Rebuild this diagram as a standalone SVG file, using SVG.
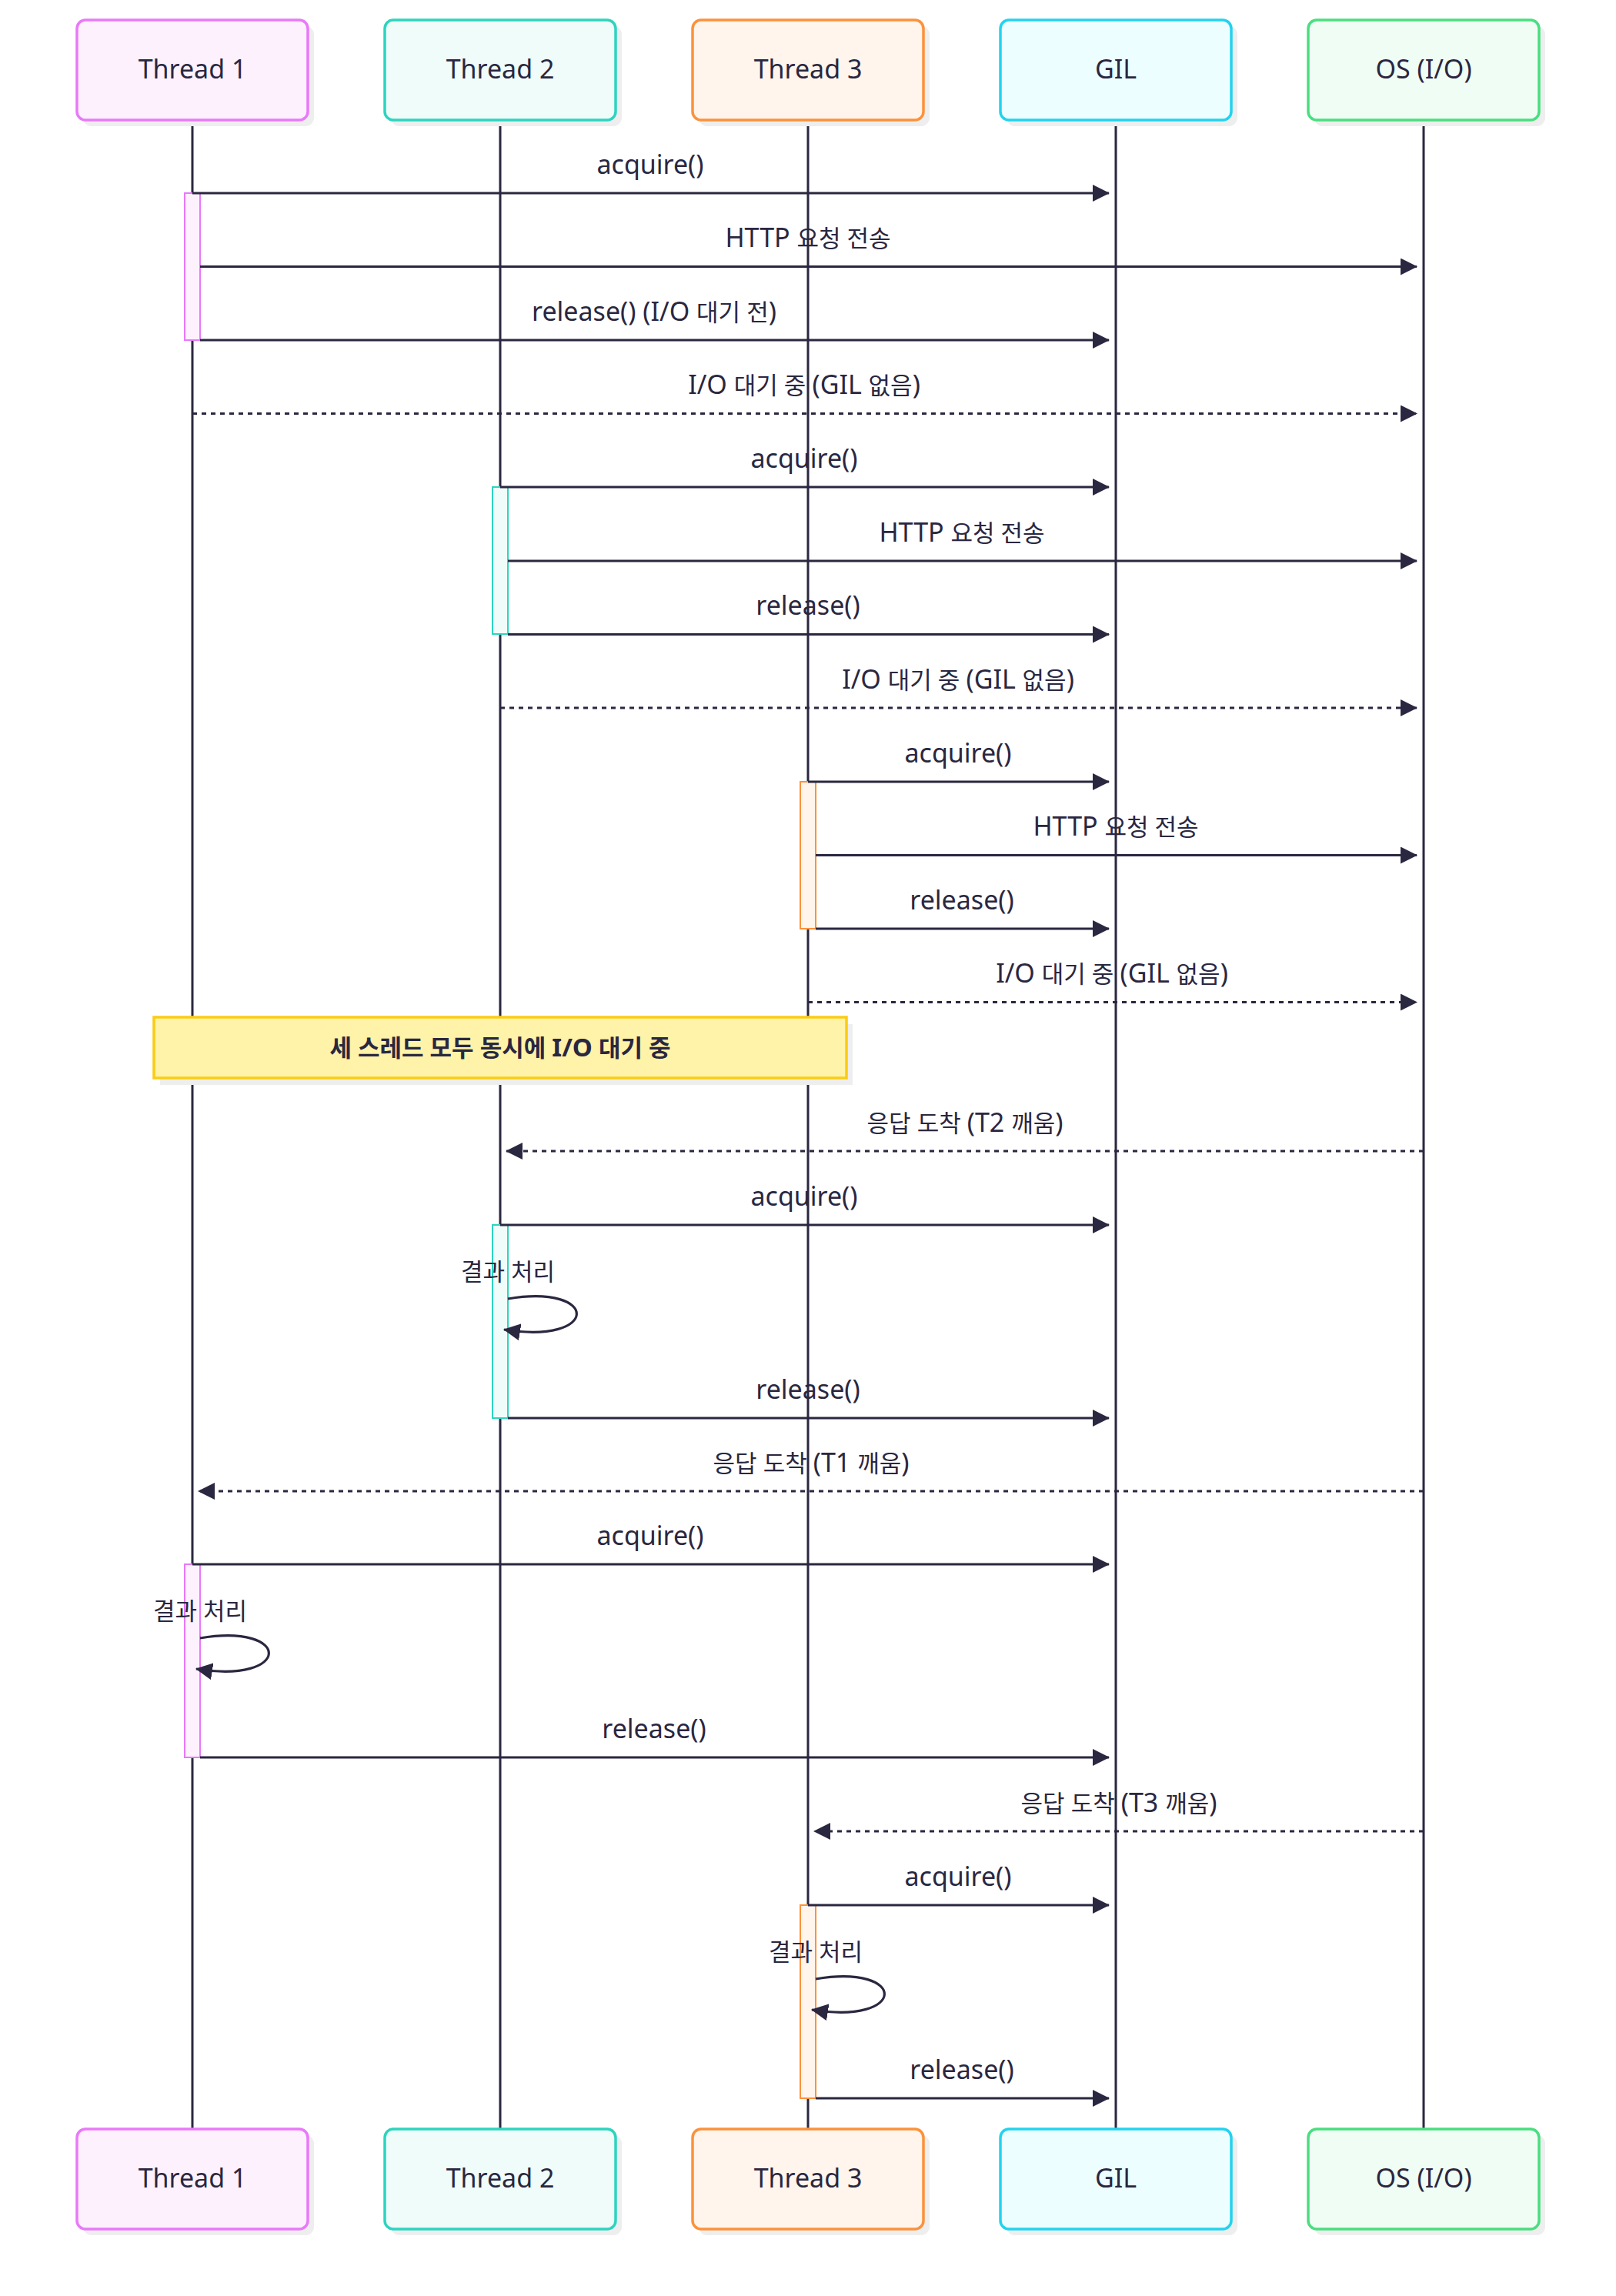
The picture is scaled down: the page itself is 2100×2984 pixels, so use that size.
<svg xmlns="http://www.w3.org/2000/svg" width="2100" height="2984" viewBox="0 0 2100 2984">
<style>
.bg{fill:#ffffff}
.lifeline{stroke:#2a2740;stroke-width:3;fill:none}
.shadow{fill:#eeeeee}
.actor{stroke-width:3.5}
.atext{font-family:"Noto Sans","Noto Sans CJK KR",sans-serif;font-size:34px;fill:#2a2740;text-anchor:middle}
.msg{stroke:#2a2740;stroke-width:3.2;fill:none}
.dot{stroke:#2a2740;stroke-width:3.2;fill:none;stroke-dasharray:6 6}
.mtext{font-family:"Noto Sans","Noto Sans CJK KR",sans-serif;font-size:34px;fill:#2a2740;text-anchor:middle}
.k{font-size:31px}
.ntext{font-family:"Noto Sans","Noto Sans CJK KR",sans-serif;font-size:33px;font-weight:bold;fill:#2a2740;text-anchor:middle}
.nk{font-size:31px}
.t1{fill:#fdf1fe;stroke:#e879f9}
.t2{fill:#effcf9;stroke:#2dd4bf}
.t3{fill:#fff5ec;stroke:#fb923c}
.gil{fill:#ecfeff;stroke:#22d3ee}
.os{fill:#effdf4;stroke:#4ade80}
.act{stroke-width:2}
</style>
<defs>
<marker id="arrow" markerUnits="userSpaceOnUse" viewBox="0 0 22 22" refX="21" refY="11" markerWidth="22" markerHeight="22" orient="auto">
<path d="M0,0 L22,11 L0,22 z" fill="#2a2740"/>
</marker>
</defs>
<rect class="bg" x="0" y="0" width="2100" height="2984"/>

<g id="lifelines">
<line class="lifeline" x1="250" y1="156" x2="250" y2="2767"/>
<line class="lifeline" x1="650" y1="156" x2="650" y2="2767"/>
<line class="lifeline" x1="1050" y1="156" x2="1050" y2="2767"/>
<line class="lifeline" x1="1450" y1="156" x2="1450" y2="2767"/>
<line class="lifeline" x1="1850" y1="156" x2="1850" y2="2767"/>
</g>

<g id="actor-t1">
<rect class="shadow" x="108" y="34" width="300" height="130" rx="11"/>
<rect class="actor t1" x="100" y="26" width="300" height="130" rx="11"/>
<text class="atext" x="250" y="102">Thread 1</text>
<rect class="shadow" x="108" y="2775" width="300" height="130" rx="11"/>
<rect class="actor t1" x="100" y="2767" width="300" height="130" rx="11"/>
<text class="atext" x="250" y="2843">Thread 1</text>
</g>
<g id="actor-t2">
<rect class="shadow" x="508" y="34" width="300" height="130" rx="11"/>
<rect class="actor t2" x="500" y="26" width="300" height="130" rx="11"/>
<text class="atext" x="650" y="102">Thread 2</text>
<rect class="shadow" x="508" y="2775" width="300" height="130" rx="11"/>
<rect class="actor t2" x="500" y="2767" width="300" height="130" rx="11"/>
<text class="atext" x="650" y="2843">Thread 2</text>
</g>
<g id="actor-t3">
<rect class="shadow" x="908" y="34" width="300" height="130" rx="11"/>
<rect class="actor t3" x="900" y="26" width="300" height="130" rx="11"/>
<text class="atext" x="1050" y="102">Thread 3</text>
<rect class="shadow" x="908" y="2775" width="300" height="130" rx="11"/>
<rect class="actor t3" x="900" y="2767" width="300" height="130" rx="11"/>
<text class="atext" x="1050" y="2843">Thread 3</text>
</g>
<g id="actor-gil">
<rect class="shadow" x="1308" y="34" width="300" height="130" rx="11"/>
<rect class="actor gil" x="1300" y="26" width="300" height="130" rx="11"/>
<text class="atext" x="1450" y="102">GIL</text>
<rect class="shadow" x="1308" y="2775" width="300" height="130" rx="11"/>
<rect class="actor gil" x="1300" y="2767" width="300" height="130" rx="11"/>
<text class="atext" x="1450" y="2843">GIL</text>
</g>
<g id="actor-os">
<rect class="shadow" x="1708" y="34" width="300" height="130" rx="11"/>
<rect class="actor os" x="1700" y="26" width="300" height="130" rx="11"/>
<text class="atext" x="1850" y="102">OS (I/O)</text>
<rect class="shadow" x="1708" y="2775" width="300" height="130" rx="11"/>
<rect class="actor os" x="1700" y="2767" width="300" height="130" rx="11"/>
<text class="atext" x="1850" y="2843">OS (I/O)</text>
</g>

<g id="activations">
<rect class="act t1" x="240" y="251" width="20" height="191"/>
<rect class="act t2" x="640" y="633" width="20" height="191"/>
<rect class="act t3" x="1040" y="1016" width="20" height="191"/>
<rect class="act t2" x="640" y="1592" width="20" height="251"/>
<rect class="act t1" x="240" y="2033" width="20" height="251"/>
<rect class="act t3" x="1040" y="2476" width="20" height="251"/>
</g>

<g id="note">
<rect class="shadow" x="208" y="1331" width="900" height="79"/>
<rect x="200" y="1322" width="900" height="79" fill="#fef3a8" stroke="#facc15" stroke-width="3.5"/>
<text class="ntext" x="650" y="1373"><tspan class="nk">세 스레드 모두 동시에 </tspan>I/O<tspan class="nk"> 대기 중</tspan></text>
</g>

<g id="connectors">
<path class="msg" d="M250,251 H1441" marker-end="url(#arrow)"/>
<path class="msg" d="M260,346.5 H1841" marker-end="url(#arrow)"/>
<path class="msg" d="M260,442 H1441" marker-end="url(#arrow)"/>
<path class="dot" d="M250,537.5 H1841" marker-end="url(#arrow)"/>
<path class="msg" d="M650,633 H1441" marker-end="url(#arrow)"/>
<path class="msg" d="M660,729 H1841" marker-end="url(#arrow)"/>
<path class="msg" d="M660,824.5 H1441" marker-end="url(#arrow)"/>
<path class="dot" d="M650,920 H1841" marker-end="url(#arrow)"/>
<path class="msg" d="M1050,1016 H1441" marker-end="url(#arrow)"/>
<path class="msg" d="M1060,1111.5 H1841" marker-end="url(#arrow)"/>
<path class="msg" d="M1060,1207 H1441" marker-end="url(#arrow)"/>
<path class="dot" d="M1050,1302.5 H1841" marker-end="url(#arrow)"/>
<path class="dot" d="M1850,1496 H658" marker-end="url(#arrow)"/>
<path class="msg" d="M650,1592 H1441" marker-end="url(#arrow)"/>
<path class="msg" d="M660,1688 C780,1668 780,1748 655,1728" marker-end="url(#arrow)"/>
<path class="msg" d="M660,1843 H1441" marker-end="url(#arrow)"/>
<path class="dot" d="M1850,1938 H258" marker-end="url(#arrow)"/>
<path class="msg" d="M250,2033 H1441" marker-end="url(#arrow)"/>
<path class="msg" d="M260,2129 C380,2109 380,2189 255,2169" marker-end="url(#arrow)"/>
<path class="msg" d="M260,2284 H1441" marker-end="url(#arrow)"/>
<path class="dot" d="M1850,2380 H1058" marker-end="url(#arrow)"/>
<path class="msg" d="M1050,2476 H1441" marker-end="url(#arrow)"/>
<path class="msg" d="M1060,2572 C1180,2552 1180,2632 1055,2612" marker-end="url(#arrow)"/>
<path class="msg" d="M1060,2727 H1441" marker-end="url(#arrow)"/>
</g>

<g id="labels">
<text class="mtext" x="845" y="226">acquire()</text>
<text class="mtext" x="1050" y="321">HTTP <tspan class="k">요청 전송</tspan></text>
<text class="mtext" x="850" y="417">release() (I/O <tspan class="k">대기 전</tspan>)</text>
<text class="mtext" x="1045" y="512">I/O <tspan class="k">대기 중 </tspan>(GIL <tspan class="k">없음</tspan>)</text>
<text class="mtext" x="1045" y="608">acquire()</text>
<text class="mtext" x="1250" y="704">HTTP <tspan class="k">요청 전송</tspan></text>
<text class="mtext" x="1050" y="799">release()</text>
<text class="mtext" x="1245" y="895">I/O <tspan class="k">대기 중 </tspan>(GIL <tspan class="k">없음</tspan>)</text>
<text class="mtext" x="1245" y="991">acquire()</text>
<text class="mtext" x="1450" y="1086">HTTP <tspan class="k">요청 전송</tspan></text>
<text class="mtext" x="1250" y="1182">release()</text>
<text class="mtext" x="1445" y="1277">I/O <tspan class="k">대기 중 </tspan>(GIL <tspan class="k">없음</tspan>)</text>
<text class="mtext" x="1254" y="1471"><tspan class="k">응답 도착 </tspan>(T2 <tspan class="k">깨움</tspan>)</text>
<text class="mtext" x="1045" y="1567">acquire()</text>
<text class="mtext" x="660" y="1664"><tspan class="k">결과 처리</tspan></text>
<text class="mtext" x="1050" y="1818">release()</text>
<text class="mtext" x="1054" y="1913"><tspan class="k">응답 도착 </tspan>(T1 <tspan class="k">깨움</tspan>)</text>
<text class="mtext" x="845" y="2008">acquire()</text>
<text class="mtext" x="260" y="2105"><tspan class="k">결과 처리</tspan></text>
<text class="mtext" x="850" y="2259">release()</text>
<text class="mtext" x="1454" y="2355"><tspan class="k">응답 도착 </tspan>(T3 <tspan class="k">깨움</tspan>)</text>
<text class="mtext" x="1245" y="2451">acquire()</text>
<text class="mtext" x="1060" y="2548"><tspan class="k">결과 처리</tspan></text>
<text class="mtext" x="1250" y="2702">release()</text>
</g>
</svg>
